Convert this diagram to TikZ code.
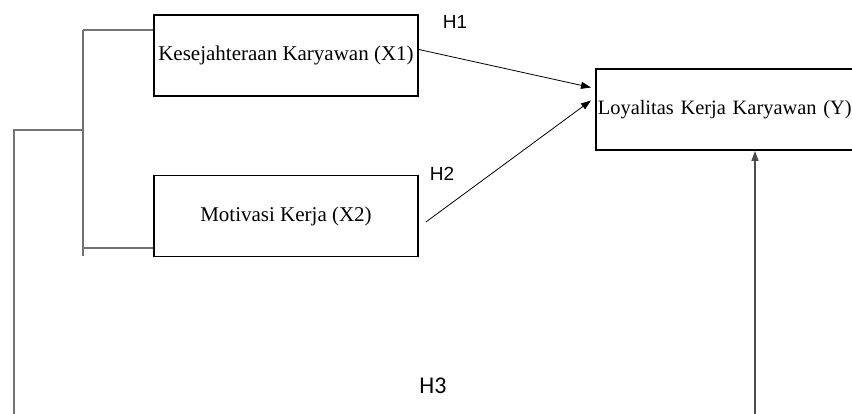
\documentclass[tikz,border=0pt]{standalone}
\usepackage{fontspec}
\setmainfont{Liberation Serif}
\newfontfamily\arialf{Liberation Sans}
\newfontfamily\calibrif{Carlito}
\usetikzlibrary{arrows.meta}
\begin{document}
\begin{tikzpicture}[x=1pt,y=-1pt,
  varbox/.style={draw=black,line width=1.8pt,minimum height=81pt,inner sep=0pt,font=\fontsize{21}{24}\selectfont},
  bracket/.style={draw=black!55,line width=1.3pt},
  hyparrow/.style={draw=black,line width=0.8pt,-{Triangle[length=10pt,width=7pt]}},
  hlabel/.style={font=\arialf\fontsize{19}{21}\selectfont,inner sep=0pt}]
\path[use as bounding box,clip] (0,0) rectangle (852,414);
\fill[white] (0,0) rectangle (852,414);
\node[varbox,minimum width=264pt] (X1) at (286,55.5) {Kesejahteraan Karyawan (X1)};
\node[varbox,minimum width=264pt] (X2) at (286,216) {Motivasi Kerja (X2)};
\node[varbox,font=\fontsize{20.4}{24}\selectfont,minimum width=270pt,anchor=west,text width=266pt,align=left,inner xsep=2pt] (Y) at (595,109.5) {Loyalitas Kerja Karyawan (Y)};
\node[hlabel] (H1) at (455,22) {H1};
\node[hlabel] (H2) at (442,174) {H2};
\node[font=\calibrif\fontsize{24}{26}\selectfont,inner sep=0pt] (H3) at (433,386) {H3};
% bracket
\coordinate (bt) at (83,30);
\coordinate (bb) at (83,256);
\coordinate (bm) at (83,130);
\coordinate (lt) at (14,130);
\coordinate (lb) at (14,414);
\coordinate (rb) at (755,414);
\draw[bracket] (bt) -- (bb);
\draw[bracket] (bt) -- (bt -| X1.west);
\draw[bracket] (83,248) -- (X2.west |- 0,248);
\draw[bracket] (bm) -- (lt) -- (lb);
\draw[draw=black!70,line width=1.2pt,-{Triangle[length=10pt,width=7pt]}] (rb) -- (rb |- Y.south);
% arrows
\draw[hyparrow] ([yshift=6pt]X1.east) -- ([xshift=-4pt,yshift=22pt]Y.west);
\draw[hyparrow] ([xshift=7pt,yshift=-6pt]X2.east) -- ([xshift=-4pt,yshift=9pt]Y.west);
\end{tikzpicture}
\end{document}
